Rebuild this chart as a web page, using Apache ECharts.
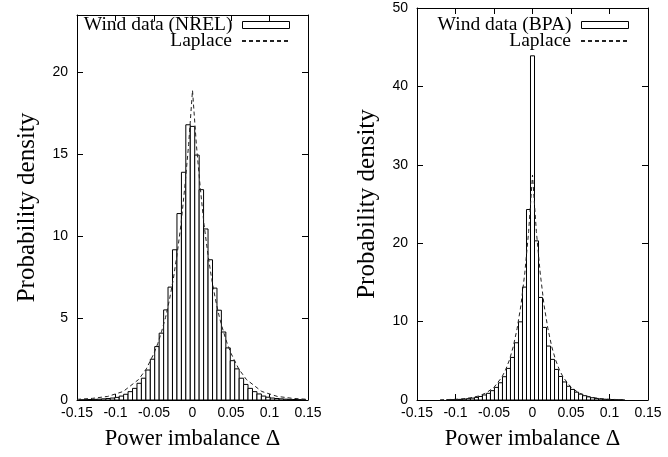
<!DOCTYPE html>
<html>
<head>
<meta charset="utf-8">
<script src="https://cdn.jsdelivr.net/npm/echarts@6/dist/echarts.min.js"></script>
<style>html,body{margin:0;padding:0;background:#fff}#c{width:668px;height:457px}</style>
</head>
<body>
<div id="c"></div>
<script>
// ---- Left panel: NREL wind data histogram ----
const nrelBinWidth = 0.00577;
const nrelBinCenters = [-0.1443,-0.1385,-0.1327,-0.1270,-0.1212,-0.1154,-0.1096,-0.1039,-0.0981,-0.0923,-0.0866,-0.0808,-0.0750,-0.0692,-0.0635,-0.0577,-0.0519,-0.0462,-0.0404,-0.0346,-0.0289,-0.0231,-0.0173,-0.0115,-0.0058,0,0.0058,0.0115,0.0173,0.0231,0.0289,0.0346,0.0404,0.0462,0.0519,0.0577,0.0635,0.0692,0.0750,0.0808,0.0866,0.0923,0.0981,0.1039,0.1096,0.1154,0.1212,0.1270,0.1327,0.1385,0.1443];
const nrelDensity = [0.01,0.02,0.03,0.04,0.05,0.07,0.09,0.12,0.16,0.24,0.35,0.51,0.71,1.02,1.33,1.83,2.49,3.26,4.08,5.50,6.89,9.17,11.38,13.9,16.8,16.7,14.95,12.84,10.44,8.56,6.83,5.48,4.15,3.18,2.40,1.90,1.33,0.95,0.71,0.51,0.37,0.24,0.17,0.12,0.09,0.07,0.05,0.04,0.03,0.02,0.01];
const nrelLaplaceX = [-0.15,-0.13,-0.11,-0.09,-0.07,-0.06,-0.05,-0.045,-0.04,-0.035,-0.03,-0.025,-0.02,-0.015,-0.01,-0.005,0,0.005,0.01,0.015,0.02,0.025,0.03,0.035,0.04,0.045,0.05,0.06,0.07,0.09,0.11,0.13,0.15];
const nrelLaplaceY = [0.04,0.1,0.22,0.52,1.25,1.9,2.85,3.46,4.2,5.04,6.1,7.36,8.9,10.7,13.0,15.6,18.9,15.6,13.0,10.7,8.9,7.36,6.1,5.04,4.2,3.46,2.85,1.9,1.25,0.52,0.22,0.1,0.04];

// ---- Right panel: BPA wind data histogram ----
const bpaBinWidth = 0.0052;
const bpaBinCenters = [-0.1092,-0.1040,-0.0988,-0.0936,-0.0884,-0.0832,-0.0780,-0.0728,-0.0676,-0.0624,-0.0572,-0.0520,-0.0468,-0.0416,-0.0364,-0.0312,-0.0260,-0.0208,-0.0156,-0.0104,-0.0052,0,0.0052,0.0104,0.0156,0.0208,0.0260,0.0312,0.0364,0.0416,0.0468,0.0520,0.0572,0.0624,0.0676,0.0728,0.0780,0.0832,0.0884,0.0936,0.0988,0.1040,0.1092,0.1144];
const bpaDensity = [0.02,0.03,0.05,0.08,0.12,0.17,0.24,0.33,0.45,0.64,0.85,1.19,1.61,2.2,2.97,4.03,5.43,7.3,9.97,14.4,24.3,43.9,20.3,13.08,9.26,6.88,5.18,3.9,3.0,2.3,1.75,1.35,1.0,0.75,0.55,0.4,0.29,0.2,0.14,0.1,0.07,0.05,0.03,0.02];
const bpaLaplaceX = [-0.12,-0.1,-0.09,-0.08,-0.07,-0.06,-0.05,-0.04,-0.035,-0.03,-0.025,-0.02,-0.015,-0.01,-0.005,0,0.005,0.01,0.015,0.02,0.025,0.03,0.035,0.04,0.05,0.06,0.07,0.08,0.09,0.1,0.12];
const bpaLaplaceY = [0.03,0.09,0.16,0.29,0.51,0.91,1.62,2.88,3.83,5.1,6.8,9.1,12.1,16.2,21.5,28.7,21.5,16.2,12.1,9.1,6.8,5.1,3.83,2.88,1.62,0.91,0.51,0.29,0.16,0.09,0.03];

// ---- Axis ticks / labels ----
const xTicks = {min: -0.15, max: 0.15, interval: 0.05};
const nrelYTicks = {min: 0, max: 23.5, interval: 5};
const bpaYTicks = {min: 0, max: 50, interval: 10};
const xTitle = 'Power imbalance \u0394';
const yTitle = 'Probability density';
const nrelName = 'Wind data (NREL)';
const bpaName = 'Wind data (BPA)';
const laplaceName = 'Laplace';

const sans = 'Liberation Sans';
const serif = 'Liberation Serif';

function histData(centers, vals, w) {
  return centers.map((c, i) => [c, vals[i], w]);
}
function pairs(xs, ys) { return xs.map((x, i) => [x, ys[i]]); }

function renderBar(params, api) {
  const c = api.value(0), h = api.value(1), w = api.value(2);
  const p0 = api.coord([c - w / 2, h]);
  const p1 = api.coord([c + w / 2, 0]);
  return {
    type: 'rect',
    shape: {x: p0[0], y: p0[1], width: p1[0] - p0[0], height: p1[1] - p0[1]},
    style: {fill: '#fff', stroke: '#000', lineWidth: 1}
  };
}

const axisLine = {show: true, onZero: false, lineStyle: {color: '#000', width: 1}};
const tickIn = {show: true, inside: true, length: 6, lineStyle: {color: '#000', width: 1}};

function xAxes(grid) {
  return [
    Object.assign({type: 'value', gridIndex: grid, position: 'bottom',
      axisLine, axisTick: tickIn, splitLine: {show: false},
      axisLabel: {color: '#000', fontFamily: sans, fontSize: 14, margin: 6},
      name: xTitle, nameLocation: 'middle', nameGap: 28,
      nameTextStyle: {color: '#000', fontFamily: serif, fontSize: 22.5}}, xTicks),
    Object.assign({type: 'value', gridIndex: grid, position: 'top',
      axisLine, axisTick: tickIn, splitLine: {show: false},
      axisLabel: {show: false}}, xTicks)
  ];
}
function yAxes(grid, ticks) {
  return [
    Object.assign({type: 'value', gridIndex: grid, position: 'left',
      axisLine, axisTick: tickIn, splitLine: {show: false},
      axisLabel: {color: '#000', fontFamily: sans, fontSize: 14, margin: 9, showMaxLabel: ticks.max % ticks.interval === 0},
      name: yTitle, nameLocation: 'middle', nameGap: 37,
      nameTextStyle: {color: '#000', fontFamily: serif, fontSize: 25}}, ticks),
    Object.assign({type: 'value', gridIndex: grid, position: 'right',
      axisLine, axisTick: tickIn, splitLine: {show: false},
      axisLabel: {show: false}}, ticks)
  ];
}

const legendText = {color: '#000', fontFamily: serif, fontSize: 19.5, padding: [0, 5, 0, 0]};
function boxLegend(name, right, top) {
  return {data: [{name, icon: 'rect', itemStyle: {color: '#fff', borderColor: '#000', borderWidth: 1}}],
    right, top, padding: 0, align: 'right', itemWidth: 47, itemHeight: 7,
    textStyle: legendText, selectedMode: false};
}
function lineLegend(right, top) {
  return {data: [{name: laplaceName, itemStyle: {opacity: 0, color: 'rgba(0,0,0,0)', borderWidth: 0}}],
    right, top, padding: 0, align: 'right',
    itemWidth: 47, itemHeight: 10, textStyle: legendText, selectedMode: false};
}

const chart = echarts.init(document.getElementById('c'), null, {renderer: 'canvas'});
chart.setOption({
  animation: false,
  backgroundColor: '#fff',
  grid: [
    {left: 77, top: 15, width: 231, height: 385},
    {left: 417, top: 8, width: 231, height: 392}
  ],
  xAxis: [...xAxes(0), ...xAxes(1)],
  yAxis: [...yAxes(0, nrelYTicks), ...yAxes(1, bpaYTicks)],
  legend: [
    boxLegend(nrelName, 378, 15),
    lineLegend(378, 31),
    boxLegend(bpaName, 39, 15),
    lineLegend(39, 31)
  ],
  series: [
    {name: nrelName, type: 'custom', xAxisIndex: 0, yAxisIndex: 0, renderItem: renderBar,
     encode: {x: 0, y: 1}, clip: true, data: histData(nrelBinCenters, nrelDensity, nrelBinWidth), z: 2},
    {name: laplaceName, type: 'line', xAxisIndex: 0, yAxisIndex: 0, symbol: 'none', z: 3,
     lineStyle: {color: '#222', width: 1, type: [4, 3]}, itemStyle: {color: '#222'},
     data: pairs(nrelLaplaceX, nrelLaplaceY)},
    {name: bpaName, type: 'custom', xAxisIndex: 2, yAxisIndex: 2, renderItem: renderBar,
     encode: {x: 0, y: 1}, clip: true, data: histData(bpaBinCenters, bpaDensity, bpaBinWidth), z: 2},
    {name: laplaceName, type: 'line', xAxisIndex: 2, yAxisIndex: 2, symbol: 'none', z: 3,
     lineStyle: {color: '#222', width: 1, type: [4, 3]}, itemStyle: {color: '#222'},
     data: pairs(bpaLaplaceX, bpaLaplaceY)}
  ]
});
</script>
</body>
</html>
